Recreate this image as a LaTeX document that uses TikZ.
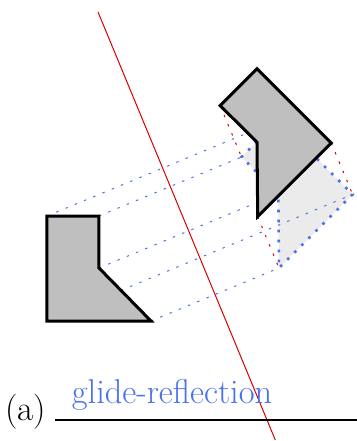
\documentclass[tikz,border=0pt]{standalone}
\usetikzlibrary{calc}
\definecolor{glideblue}{RGB}{75,112,235}
\definecolor{axisred}{RGB}{215,0,0}
\tikzset{
  shapeline/.style={draw=black,line width=1.5pt,line join=miter,fill=black!25},
  ghost/.style={draw=glideblue,line width=1.3pt,dash pattern=on 1.3pt off 3.7pt,fill=black!8},
  reflectline/.style={draw=glideblue,line width=0.5pt,dash pattern=on 1.2pt off 3.8pt},
  slideline/.style={draw=axisred,line width=0.5pt,dash pattern=on 1.2pt off 3.8pt},
  mirror/.style={draw=axisred,line width=0.5pt},
}
\begin{document}
\begin{tikzpicture}[x=0.5pt,y=-0.5pt]
\useasboundingbox (0,0) rectangle (357,441);
% original shape
\coordinate (A) at (47,216);
\coordinate (B) at (99,216);
\coordinate (C) at (99,268);
\coordinate (D) at (151,321);
\coordinate (E) at (47,321);
% reflected shape
\coordinate (A1) at (278.3,120.2);
\coordinate (B1) at (241.5,157.0);
\coordinate (C1) at (278.3,193.7);
\coordinate (D1) at (279.0,268.0);
\coordinate (E1) at (352.6,194.4);
% glide-reflected shape
\coordinate (A2) at (257.0,68.8);
\coordinate (B2) at (220.2,105.6);
\coordinate (C2) at (257.0,142.3);
\coordinate (D2) at (257.7,216.6);
\coordinate (E2) at (331.3,143.0);
% mirror line ends
\coordinate (M1) at (98,12);
\coordinate (M2) at (275.3,440);
% label rule
\coordinate (R1) at (55,420);
\coordinate (R2) at (357,420);

\path[ghost] (A1) -- (B1) -- (C1) -- (D1) -- (E1) -- cycle;
\foreach \p in {A,B,C,D,E} {\draw[reflectline] (\p) -- (\p1);}
\foreach \p in {A,B,C,D,E} {\draw[slideline] (\p2) -- (\p1);}
\path[shapeline] (A2) -- (B2) -- (C2) -- (D2) -- (E2) -- cycle;
\path[shapeline] (A) -- (B) -- (C) -- (D) -- (E) -- cycle;
\draw[mirror] (M1) -- (M2);
\draw[line width=1pt] (R1) -- (R2);
\node[anchor=base west,inner sep=0pt,font=\fontsize{17.5}{21}\selectfont] (lab) at (5,420) {(a)};
\node[anchor=base west,inner sep=0pt,text=glideblue,font=\fontsize{17.2}{21}\selectfont] (name) at (71.5,403) {glide-reflection};
\end{tikzpicture}
\end{document}
